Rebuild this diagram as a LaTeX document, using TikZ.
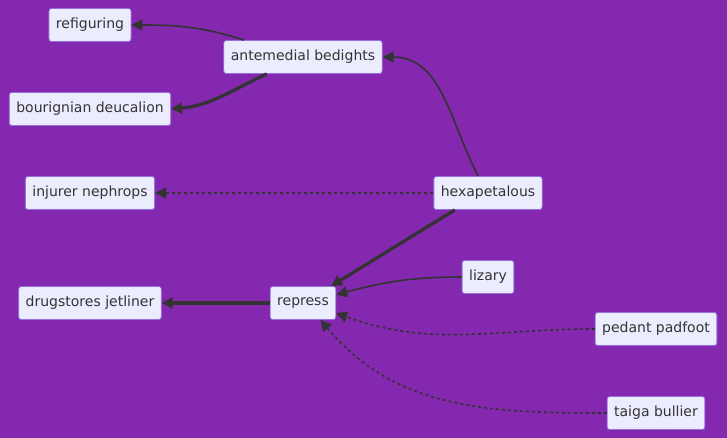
\documentclass[tikz,border=0pt]{standalone}
\usepackage{fontspec}
\setmainfont{DejaVu Sans}
\usetikzlibrary{arrows.meta}

\definecolor{bgpurple}{RGB}{132,40,176}
\definecolor{boxfill}{HTML}{ECECFF}
\definecolor{boxline}{HTML}{9370DB}
\definecolor{edgegray}{HTML}{333333}

\begin{document}
\begin{tikzpicture}[
  x=1pt, y=-1pt, >={Triangle[length=11pt,width=11pt]},
  font=\fontsize{14pt}{16pt}\selectfont,
  box/.style={draw=boxline,fill=boxfill,line width=0.8pt,rounded corners=2.5pt,
    minimum height=33pt,inner xsep=7pt,text=edgegray},
  link/.style={->,edgegray,line width=1.6pt},
  heavy/.style={->,edgegray,line width=3.2pt},
  dots/.style={->,edgegray,line width=1.6pt,dash pattern=on 3pt off 3pt},
]
% background / bounding box
\fill[bgpurple] (0,0) rectangle (727,438);
\useasboundingbox (0,0) rectangle (727,438);

% ---- left column ----
\node[box] (rf) at (90,25)  {refiguring};
\node[box] (bd) at (90,109) {bourignian deucalion};
\node[box] (in) at (90,193) {injurer nephrops};
\node[box] (dj) at (90,303) {drugstores jetliner};

% ---- middle ----
\node[box] (am) at (303,57)  {antemedial bedights};
\node[box] (rp) at (303,303) {repress};

% ---- right ----
\node[box] (hx) at (488,193) {hexapetalous};
\node[box] (lz) at (488,277) {lizary};
\node[box] (pp) at (656,329) {pedant padfoot};
\node[box] (tb) at (656,413) {taiga bullier};

% edges
\draw[link]  (am.164) to[out=162,in=0] (rf.east);
\draw[heavy] (am.205) to[out=205,in=5] (bd.east);
\draw[link]  (hx.120) to[out=118,in=0] (am.east);
\draw[dots]  (hx.west) -- (in.east);
\draw[heavy] (hx.207) -- (rp.31);
\draw[link]  (lz.west) to[out=180,in=15] (rp.14);
\draw[dots]  (pp.west) to[out=180,in=-20] (rp.-17);
\draw[dots]  (tb.west) to[out=180,in=-50] (rp.-44);
\draw[heavy] (rp.west) -- (dj.east);
\end{tikzpicture}
\end{document}
